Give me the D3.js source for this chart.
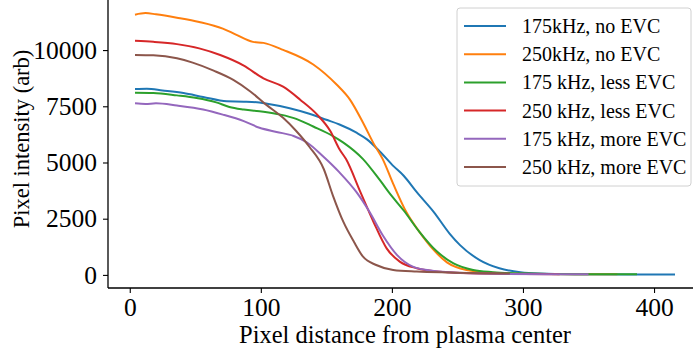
<!DOCTYPE html>
<html>
<head>
<meta charset="utf-8">
<script src="https://cdn.jsdelivr.net/npm/d3@7"></script>
<style>
  body { margin: 0; background: #fff; }
  svg { display: block; overflow: hidden; }
  text { font-family: "Liberation Serif", "Times New Roman", serif; fill: #000; }
</style>
</head>
<body>
<div id="chart"></div>
<script>
// series: [pixel distance, intensity]
const blue = [[4,8265],[13,8280],[25,8205],[41,8090],[56,7915],[74,7720],[87,7705],[97,7675],[107,7590],[122,7410],[137,7165],[150,6900],[160,6690],[173,6325],[181,6030],[191,5480],[201,4850],[209,4410],[219,3680],[232,2795],[244,1840],[252,1325],[267,660],[282,295],[298,120],[313,60],[340,30],[380,20],[416,20]];
const orange = [[4,11575],[12,11645],[20,11590],[36,11440],[53,11250],[71,10955],[81,10690],[94,10365],[102,10320],[117,10010],[140,9360],[158,8455],[168,7795],[178,6765],[186,5850],[193,5150],[201,4050],[211,2795],[221,1915],[232,1100],[242,560],[257,220],[272,120],[300,50],[340,30],[372,30]];
const green = [[4,8100],[18,8090],[36,7985],[51,7870],[66,7675],[76,7470],[87,7355],[102,7260],[115,7130],[127,6940],[140,6600],[155,6175],[163,5885],[178,5150],[191,4200],[200,3500],[209,2865],[221,1915],[234,1060],[247,515],[262,220],[277,120],[300,60],[340,30],[387,30]];
const red = [[4,10410],[18,10365],[36,10265],[53,10075],[69,9780],[87,9310],[102,8740],[117,8370],[130,7795],[143,7130],[153,6400],[160,5590],[165,5150],[176,3680],[186,2355],[196,1180],[206,590],[219,295],[234,150],[260,70],[300,40],[328,30]];
const purple = [[4,7630],[12,7605],[20,7630],[36,7530],[56,7355],[71,7130],[87,6840],[99,6545],[112,6360],[125,6180],[135,5900],[147,5300],[160,4560],[173,3680],[183,2795],[193,1765],[204,880],[216,370],[232,175],[244,120],[280,50],[320,30],[350,30]];
const brown = [[4,9780],[18,9765],[36,9635],[48,9440],[64,9085],[79,8675],[92,8160],[104,7575],[117,6985],[127,6400],[137,5700],[148,4710],[155,3530],[163,2355],[171,1475],[178,810],[188,440],[201,220],[219,150],[244,105],[270,70],[290,60]];

const seriesNames = ["175kHz, no EVC", "250kHz, no EVC", "175 kHz, less EVC", "250 kHz, less EVC", "175 kHz, more EVC", "250 kHz, more EVC"];
const seriesColors = ["#1f77b4", "#ff7f0e", "#2ca02c", "#d62728", "#9467bd", "#8c564b"];
const seriesData = [blue, orange, green, red, purple, brown];
const xTicks = [0, 100, 200, 300, 400];
const yTicks = [0, 2500, 5000, 7500, 10000];

const W = 693, H = 354;
const m = { left: 108, top: 0, right: 702, bottom: 288 };

const svg = d3.select('#chart').append('svg').attr('width', W).attr('height', H);

// matplotlib style 5% margins
const allX = seriesData.flat().map(d => d[0]);
const allY = seriesData.flat().map(d => d[1]);
const xmin = d3.min(allX), xmax = d3.max(allX);
const ymin = 0, ymax = d3.max(allY);
const xpad = (xmax - xmin) * 0.05, ypad = (ymax - ymin) * 0.05;

const x = d3.scaleLinear().domain([xmin - xpad, xmax + xpad]).range([m.left, m.right]);
const y = d3.scaleLinear().domain([ymin - ypad, ymax + ypad]).range([m.bottom, m.top]);

const line = d3.line().x(d => x(d[0])).y(d => y(d[1])).curve(d3.curveMonotoneX);

svg.append('g')
  .selectAll('path')
  .data(seriesData)
  .join('path')
  .attr('d', line)
  .attr('fill', 'none')
  .attr('stroke', (d, i) => seriesColors[i])
  .attr('stroke-width', 2);

// axes
const xAxis = svg.append('g').attr('transform', `translate(0,${m.bottom})`)
  .call(d3.axisBottom(x).tickValues(xTicks).tickSize(5).tickPadding(5).tickFormat(d3.format('d')));
const yAxis = svg.append('g').attr('transform', `translate(${m.left},0)`)
  .call(d3.axisLeft(y).tickValues(yTicks).tickSize(5).tickPadding(6).tickFormat(d3.format('d')));
[xAxis, yAxis].forEach(a => {
  a.select('.domain').attr('stroke', '#000').attr('stroke-width', 1.3);
  a.selectAll('.tick line').attr('stroke', '#000').attr('stroke-width', 1.1);
  a.selectAll('.tick text').style('font-family', '"Liberation Serif", serif').attr('font-size', 25.5).attr('fill', '#000');
});
xAxis.select('.domain').attr('d', `M${m.left},0H${m.right}`);
yAxis.select('.domain').attr('d', `M0,${m.bottom}V${m.top}`);

svg.append('text')
  .attr('x', (m.left + m.right) / 2).attr('y', 343)
  .attr('text-anchor', 'middle').attr('font-size', 24.5)
  .text('Pixel distance from plasma center');

svg.append('text')
  .attr('transform', `translate(29,139) rotate(-90)`)
  .attr('text-anchor', 'middle').attr('font-size', 22.5)
  .text('Pixel intensity (arb)');

// legend
const lg = svg.append('g').attr('transform', 'translate(457,8)');
lg.append('rect').attr('width', 234).attr('height', 178).attr('rx', 3)
  .attr('fill', '#fff').attr('fill-opacity', 0.8).attr('stroke', '#d0d0d0');
const items = lg.selectAll('g.item').data(seriesNames).join('g')
  .attr('transform', (d, i) => `translate(0,${18 + i * 28.2})`);
items.append('line').attr('x1', 7).attr('x2', 49).attr('stroke', (d, i) => seriesColors[i]).attr('stroke-width', 2);
items.append('text').attr('x', 65).attr('dy', '0.35em').attr('font-size', 20).text(d => d);
</script>
</body>
</html>
